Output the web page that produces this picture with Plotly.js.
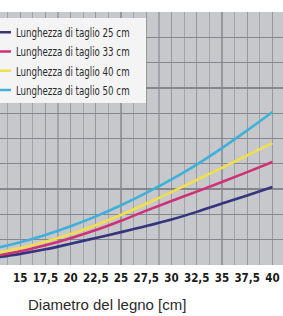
<!DOCTYPE html>
<html>
<head>
<meta charset="utf-8">
<script src="https://cdn.plot.ly/plotly-3.0.1.min.js"></script>
<style>
html,body{margin:0;padding:0;background:#fff;}
#chart{width:283px;height:316px;}
.legendtext{font-stretch:condensed;transform-box:fill-box;transform-origin:0 50%;transform:scaleX(0.77);}
.xtick text{font-stretch:condensed;}
</style>
</head>
<body>
<div id="chart"></div>
<script>
const diameters = [12.5, 15, 17.5, 20, 22.5, 25, 27.5, 30, 32.5, 35, 37.5, 40];
const seriesNames = ["Lunghezza di taglio 25 cm", "Lunghezza di taglio 33 cm", "Lunghezza di taglio 40 cm", "Lunghezza di taglio 50 cm"];
const cut25 = [0.29, 0.44, 0.62, 0.84, 1.07, 1.30, 1.54, 1.80, 2.10, 2.43, 2.75, 3.08];
const cut33 = [0.36, 0.54, 0.78, 1.06, 1.38, 1.75, 2.15, 2.53, 2.90, 3.28, 3.67, 4.07];
const cut40 = [0.46, 0.66, 0.92, 1.22, 1.57, 1.98, 2.42, 2.88, 3.36, 3.84, 4.33, 4.82];
const cut50 = [0.66, 0.90, 1.19, 1.53, 1.92, 2.36, 2.85, 3.38, 3.97, 4.62, 5.32, 6.05];
const colors = ["#34357e", "#cf3179", "#f2df4e", "#3fb1d9"];
const xTitle = "Diametro del legno [cm]";

const values = [cut25, cut33, cut40, cut50];
const traces = values.map((v, i) => ({
  x: diameters, y: v, type: "scatter", mode: "lines", name: seriesNames[i],
  line: {color: colors[i], width: 2.6, shape: "spline", smoothing: 1}
}));

const layout = {
  width: 283, height: 316,
  margin: {l: 0, r: 0, t: 12, b: 51, autoexpand: false},
  paper_bgcolor: "#ffffff",
  plot_bgcolor: "#c6c8cc",
  separators: ",.",
  showlegend: true,
  legend: {
    x: -0.085, y: 0.978, xanchor: "left", yanchor: "top",
    bgcolor: "rgba(0,0,0,0)", borderwidth: 0,
    font: {family: "DejaVu Sans, sans-serif", size: 12.5, color: "#2b2b2b"},
    traceorder: "normal"
  },
  shapes: [{
    type: "rect", xref: "paper", yref: "paper", layer: "above",
    x0: -0.01, x1: 146/283, y0: 1 - 91/253, y1: 1 - 6/253,
    fillcolor: "#f4f4f5", line: {width: 0}
  }],
  xaxis: {
    range: [13.0, 41.05], tick0: 0, dtick: 2.5,
    showgrid: true, gridcolor: "#96989e", gridwidth: 1.2,
    minor: {dtick: 1.25, showgrid: true, gridcolor: "#a2a4a9", gridwidth: 1.2},
    zeroline: false, showline: false, ticks: "",
    tickfont: {family: "DejaVu Sans, sans-serif", size: 11.5, color: "#1a1a1a", weight: "bold"},
    ticklabelstandoff: 4
  },
  yaxis: {
    range: [0, 10], dtick: 1,
    showgrid: true, gridcolor: "#85878d", gridwidth: 1.3,
    zeroline: false, showticklabels: false, ticks: ""
  },
  annotations: [{
    text: xTitle, xref: "paper", yref: "paper", x: 107/283, y: -39/253,
    xanchor: "center", yanchor: "middle", showarrow: false,
    font: {family: "Liberation Sans, Arial, sans-serif", size: 15, color: "#2a2a2a"}
  }]
};

Plotly.newPlot("chart", traces, layout, {displayModeBar: false, staticPlot: true});
</script>
</body>
</html>
